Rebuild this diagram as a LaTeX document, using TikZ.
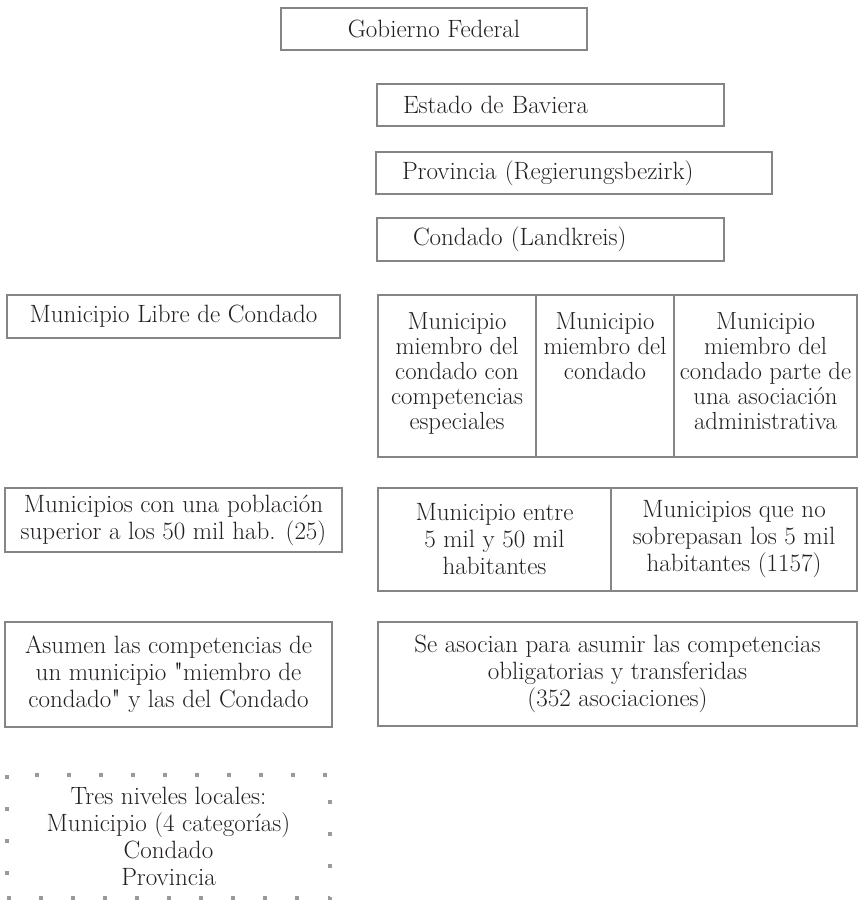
\documentclass[tikz,border=0pt]{standalone}
\usepackage{tikz}
\usetikzlibrary{positioning}
\definecolor{FigureInk}{HTML}{231F20}
\definecolor{FrameGray}{HTML}{858585}
\definecolor{DotGray}{HTML}{9A9A9A}
\font\PlainQuoteFont="[lmroman10-regular.otf]" at 17.8pt
\newcommand{\StraightQuote}{{\PlainQuoteFont"}}
\newcommand{\TopCell}[2]{\parbox[c][3.15cm][t]{#1}{\centering #2}}
\tikzset{
  figure/.style={text=FigureInk,font=\fontsize{17.8}{19.2}\selectfont},
  plainbox/.style={draw=FrameGray,line width=1.7pt,inner sep=1pt},
  titlebox/.style={plainbox,minimum height=1.05cm},
  levelbox/.style={plainbox,align=left,minimum height=1.05cm,inner xsep=0.65cm},
  textbox/.style={plainbox,align=center},
  cellbox/.style={plainbox,minimum height=4.05cm,font=\fontsize{17.6}{17.8}\selectfont},
  notebox/.style={draw=DotGray,line width=2.8pt,dash pattern=on 2.8pt off 20pt,align=center},
}

\begin{document}
\begin{tikzpicture}[figure]
  \useasboundingbox (0,0) rectangle (21.45,22.525);

  \node[titlebox,minimum width=7.65cm] (federal) at (10.85,21.8) {Gobierno Federal};
  \node[levelbox,text width=7.375cm] (estado) at (13.7625,19.9) {Estado de Baviera};
  \node[levelbox,text width=8.6cm] (provincia) at (14.35,18.2) {Provincia (Regierungsbezirk)};
  \node[levelbox,inner xsep=0.9cm,text width=6.875cm,minimum height=1.075cm] (condado) at (13.7625,16.5375)
    {Condado (Landkreis)};

  \node[titlebox,minimum width=8.325cm,minimum height=1.075cm] (libre) at (4.3375,14.6125)
    {Municipio Libre de Condado};
  \node[cellbox,minimum width=3.95cm] (especial) at (11.425,13.125)
    {\TopCell{3.8cm}{Municipio\\ miembro del\\ condado con\\ competencias\\ especiales}};
  \node[cellbox,minimum width=3.45cm] (miembro) at (15.125,13.125)
    {\TopCell{3.35cm}{Municipio\\ miembro del\\ condado}};
  \node[cellbox,minimum width=4.575cm] (asociado) at (19.1375,13.125)
    {\TopCell{4.5cm}{Municipio\\ miembro del\\ condado parte de\\ una asociación\\ administrativa}};

  \node[textbox,minimum width=8.425cm,minimum height=1.6cm] (grande) at (4.3375,9.525)
    {Municipios con una población\\ superior a los 50 mil hab. (25)};
  \node[textbox,minimum width=5.825cm,minimum height=2.575cm] (mediano) at (12.3625,9.0375)
    {Municipio entre\\ 5 mil y 50 mil\\ habitantes};
  \node[textbox,minimum width=6.15cm,minimum height=2.575cm] (pequeno) at (18.35,9.0375)
    {Municipios que no\\ sobrepasan los 5 mil\\ habitantes (1157)};

  \node[textbox,minimum width=8.175cm,minimum height=2.625cm] (asumen) at (4.2125,5.6625)
    {Asumen las competencias de\\ un municipio \StraightQuote miembro de\\ condado\StraightQuote{} y las del Condado};
  \node[textbox,minimum width=11.975cm,minimum height=2.6cm] (asocian) at (15.4375,5.675)
    {Se asocian para asumir las competencias\\ obligatorias y transferidas\\ (352 asociaciones)};

  \node[notebox,minimum width=8.075cm,minimum height=3.075cm] (niveles) at (4.2125,1.6125)
    {Tres niveles locales:\\ Municipio (4 categorías)\\ Condado\\ Provincia};
\end{tikzpicture}
\end{document}
